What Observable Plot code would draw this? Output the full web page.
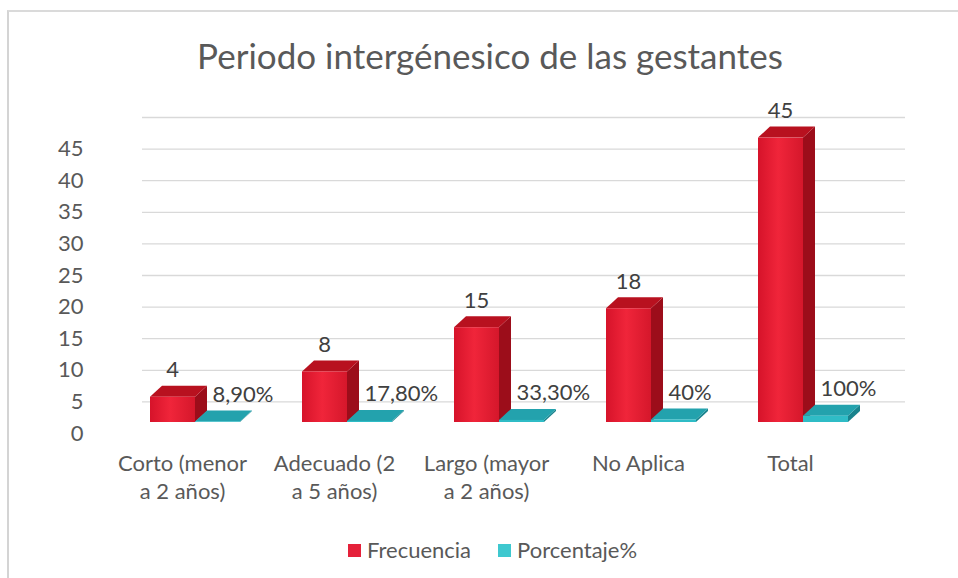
<!DOCTYPE html>
<html><head><meta charset="utf-8">
<script src="https://cdn.jsdelivr.net/npm/d3@7"></script>
<script src="https://cdn.jsdelivr.net/npm/@observablehq/plot@0.6"></script>
<style>
body{margin:0;background:#fff;font-family:Lato,"Open Sans",sans-serif;width:958px;height:578px;overflow:hidden;position:relative;}
#frame{position:absolute;left:7px;top:10px;width:951px;height:568px;border-left:2px solid #d4d4d4;border-top:2px solid #dadada;box-sizing:border-box;}
#title{position:absolute;left:11px;top:38px;width:958px;text-align:center;font-size:35px;line-height:35px;color:#595959;white-space:nowrap;}
#chart{position:absolute;left:0;top:90px;}
#legend{position:absolute;left:348px;top:538px;display:flex;align-items:center;font-size:22px;line-height:24px;color:#595959;}
#legend .sq{width:13px;height:13px;display:inline-block;margin-right:6px;}
#legend .it{display:flex;align-items:center;margin-right:27px;}
</style></head>
<body>
<div id="frame"></div>
<div id="title"></div>
<div id="chart"></div>
<div id="legend"></div>
<script>
const titulo = "Periodo intergénesico de las gestantes";
const categorias = ["Corto (menor\na 2 años)", "Adecuado (2\na 5 años)", "Largo (mayor\na 2 años)", "No Aplica", "Total"];
const frecuencia = [4, 8, 15, 18, 45];
const porcentaje = [8.9, 17.8, 33.3, 40, 100];
const yTicks = [0, 5, 10, 15, 20, 25, 30, 35, 40, 45];
const gridTicks = [5, 10, 15, 20, 25, 30, 35, 40, 45, 50];
const series = ["Frecuencia", "Porcentaje%"];
const colores = ["#e5213a", "#3ec8cf"];

const rows = categorias.map((c, i) => ({cat: c, frec: frecuencia[i], pct: porcentaje[i]}));
const fmtPct = v => (v % 1 === 0 ? String(v) : v.toFixed(2).replace(".", ",")) + "%";

const W = 45, DX = 12, DY = 11, LIFT = 11;
const redStyle = {front: "url(#gradRed)", top: "#b8111f", side: "#9c0d1a"};
const tealStyle = {front: "#2fbcc6", top: "#23a2ad", side: "#19838d"};

function box3d(getV, offset, st) {
  return (index, scales) => {
    const g = d3.create("svg:g");
    const defs = g.append("defs");
    const gr = defs.append("linearGradient").attr("id", "gradRed").attr("x1", "0").attr("x2", "1").attr("y1", "0").attr("y2", "0");
    gr.append("stop").attr("offset", "0%").attr("stop-color", "#d6132a");
    gr.append("stop").attr("offset", "45%").attr("stop-color", "#f0253a");
    gr.append("stop").attr("offset", "100%").attr("stop-color", "#d5172b");
    for (const i of index) {
      const d = rows[i];
      const c = scales.x(d.cat);
      const x0 = c + offset, x1 = x0 + W;
      const yb = scales.y(0) - LIFT, yt = scales.y(getV(d)) - LIFT;
      g.append("polygon").attr("points", [[x1, yb], [x1, yt], [x1 + DX, yt - DY], [x1 + DX, yb - DY]].join(" ")).attr("fill", st.side);
      g.append("polygon").attr("points", [[x0, yt], [x1, yt], [x1 + DX, yt - DY], [x0 + DX, yt - DY]].join(" ")).attr("fill", st.top);
      g.append("rect").attr("x", x0).attr("y", yt).attr("width", W).attr("height", Math.max(0, yb - yt)).attr("fill", st.front);
    }
    return g.node();
  };
}

const chart = Plot.plot({
  width: 958,
  height: 430,
  marginLeft: 142,
  marginRight: 53,
  marginTop: 20,
  marginBottom: 80,
  style: {fontFamily: "Lato, 'Open Sans', sans-serif", background: "transparent"},
  x: {type: "point", domain: categorias, range: [182, 790], padding: 0, axis: null},
  y: {domain: [0, 50], range: [343, 27], axis: null},
  marks: [
    Plot.ruleY(gridTicks, {stroke: "#d9d9d9", strokeWidth: 1.3}),
    Plot.axisY(yTicks, {anchor: "left", tickSize: 0, tickPadding: 59, fontSize: 22, fill: "#595959", label: null}),
    Plot.text(rows, {x: "cat", y: () => 0, text: "cat", lineAnchor: "top", dy: 18, lineHeight: 1.27, fontSize: 22, fill: "#595959"}),
    Plot.dot(rows, {x: "cat", y: "frec", render: box3d(d => d.frec, -32, redStyle)}),
    Plot.dot(rows, {x: "cat", y: d => d.pct / 100, render: box3d(d => d.pct / 100, 13, tealStyle)}),
    Plot.text(rows, {x: "cat", y: "frec", text: d => String(d.frec), dx: -10, dy: -LIFT - 27, fontSize: 22, fill: "#404040"}),
    Plot.text(rows, {x: "cat", y: d => d.pct / 100, text: d => fmtPct(d.pct), dx: 30, dy: -LIFT - 27, textAnchor: "start", fontSize: 22, fill: "#404040"})
  ]
});
document.getElementById("chart").appendChild(chart);
document.getElementById("title").textContent = titulo;
const leg = document.getElementById("legend");
series.forEach((s, i) => {
  const it = document.createElement("span");
  it.className = "it";
  const sq = document.createElement("span");
  sq.className = "sq";
  sq.style.background = colores[i];
  it.appendChild(sq);
  it.appendChild(document.createTextNode(s));
  leg.appendChild(it);
});
</script>
</body></html>
